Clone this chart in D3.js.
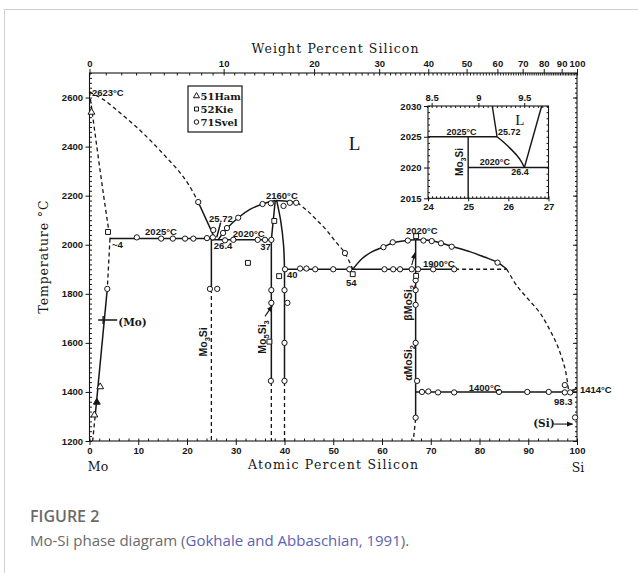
<!DOCTYPE html>
<html>
<head>
<meta charset="utf-8">
<script src="https://cdn.jsdelivr.net/npm/d3@7"></script>
<style>
  body { margin: 0; background: #fff; }
</style>
</head>
<body>
<svg id="chart" width="638" height="573"></svg>
<script>
// ---- axis ticks ----
const atTicks = [0, 10, 20, 30, 40, 50, 60, 70, 80, 90, 100];
const wtTicks = [0, 10, 20, 30, 40, 50, 60, 70, 80, 90, 100];
const tempTicks = [1200, 1400, 1600, 1800, 2000, 2200, 2400, 2600];
const insetAtTicks = [24, 25, 26, 27];
const insetWtTicks = [8.5, 9, 9.5];
const insetTempTicks = [2015, 2020, 2025, 2030];

// ---- phase boundaries (atomic % Si, °C) ----
const liqMoDashed = [[0, 2623], [3, 2590], [6.3, 2537], [9.5, 2482], [12.4, 2427], [15.5, 2362], [18.6, 2293], [20.5, 2240], [22.3, 2174]];
const liqMoSolid = [[22.3, 2174], [25.72, 2025]];
const solidusMo = [[0, 2623], [1.5, 2400], [2.9, 2200], [4.2, 2025]];
const solvusMoHigh = [[4.2, 2025], [3.65, 1820]];
const solvusMo = [[3.65, 1820], [1.15, 1300]];
const solvusMoLow = [[1.15, 1300], [0.65, 1200]];
const eut2025 = [[4.2, 2025], [25.72, 2025]];
const eut2020 = [[25, 2020], [37.3, 2020]];
const mo3SiSolid = [[25, 2025], [25, 1820]];
const mo3SiDashed = [[25, 1820], [25, 1200]];
const liqMo5Si3Left = [[26.4, 2020], [28, 2062], [30.5, 2110], [33, 2145], [35.5, 2166], [38.1, 2180]];
const liqMo5Si3Right = [[38.1, 2180], [40, 2178], [42.6, 2172]];
const liqMo5Si3Dashed = [[42.6, 2172], [44.6, 2140], [46.5, 2103], [48.5, 2062], [50.5, 2012], [52.4, 1966], [54, 1900]];
const mo5si3LeftTop = [[38.1, 2180], [37.7, 2100], [37.3, 2020]];
const mo5si3LeftSolid = [[37.3, 2020], [37.3, 1440]];
const mo5si3LeftDashed = [[37.3, 1440], [37.3, 1200]];
const mo5si3RightTop = [[38.4, 2180], [39.2, 2100], [39.8, 2000], [40, 1900]];
const mo5si3RightSolid = [[40, 1900], [40, 1440]];
const mo5si3RightDashed = [[40, 1440], [40, 1200]];
const eut1900 = [[40, 1900], [75, 1900]];
const eut1900Dashed = [[75, 1900], [85.6, 1900]];
const liqMoSi2Left = [[54, 1900], [56, 1945], [58, 1972], [60.3, 1991], [62.3, 2008], [65.2, 2017], [66.9, 2020]];
const liqMoSi2Right = [[66.9, 2020], [70, 2017], [72.1, 2007], [74.4, 1993], [78, 1972], [81, 1950], [83.7, 1928], [85.6, 1900]];
const liqSiDashed = [[85.6, 1900], [87.7, 1832], [90, 1778], [92.4, 1722], [94.5, 1650], [96.1, 1583], [97.6, 1490], [98.3, 1400]];
const moSi2Solid = [[66.9, 2020], [66.9, 1290]];
const moSi2Dashed = [[66.9, 1290], [66.4, 1200]];
const eut1400 = [[66.9, 1400], [100, 1400]];
const siMelt = [[98.3, 1400], [100, 1414]];
const leader2572 = [[26.1, 2030], [26.9, 2090]];

// ---- experimental points ----
const ham51 = [[0.4, 2540], [2.2, 1421], [1.0, 1306]];
const ham51Filled = [[1.5, 1358]];
const kie52 = [[3.8, 2052], [37.9, 2097], [32.5, 1926], [38.9, 1872], [36.9, 1605], [54, 1880], [67, 2035], [67, 1873]];
const svel71 = [
  [9.7, 2030], [14.7, 2025], [17.1, 2025], [19.6, 2025], [21.3, 2025], [24.1, 2027], [25.3, 2030],
  [25.4, 2060], [27.4, 2048], [28.2, 2068], [22.3, 2174],
  [27.8, 2018], [29.5, 2020], [34.5, 2020], [36, 2020], [37.3, 2020],
  [30.5, 2110], [35.5, 2166], [37.2, 2169], [41.1, 2171], [42.4, 2171], [39.8, 2158],
  [40.1, 1900], [43.2, 1903], [44.5, 1903], [46.3, 1900], [50, 1900], [53.3, 1900],
  [60.5, 1900], [62.3, 1900], [63.7, 1900], [66.1, 1900], [67.4, 1900], [70.5, 1900], [74.8, 1900],
  [52.4, 1966], [60.3, 1990], [62.2, 2010], [65.3, 2017], [68.5, 2017], [70.2, 2015], [72.1, 2006], [74.3, 1992], [83.7, 1927],
  [66.9, 1855], [66.9, 1815], [66.9, 1755], [66.9, 1600], [67.2, 1445], [66.9, 1295],
  [37.3, 1815], [37.3, 1763], [37.2, 1445], [40, 1815], [40.6, 1763], [40, 1600], [40, 1445],
  [24.7, 1820], [26.2, 1820], [3.65, 1820],
  [68.2, 1400], [69.5, 1402], [71.5, 1398], [74.8, 1398], [84, 1400], [89.8, 1400], [94.2, 1400], [97.5, 1398], [98.6, 1398],
  [97.5, 1428], [99.6, 1296]
];
const moCross = [[2.8, 1693]];

// ---- annotations ----
const labels = [
  ["2623°C", 0.5, 2606], ["2025°C", 11.4, 2040], ["~4", 4.6, 1987], ["25.72", 24.5, 2093],
  ["26.4", 25.5, 1983], ["2020°C", 29.4, 2032], ["37", 35, 1979], ["2160°C", 36.2, 2187],
  ["40", 40.5, 1865], ["54", 52.6, 1832], ["2020°C", 64.9, 2044], ["1900°C", 68.4, 1909],
  ["1400°C", 77.8, 1404], ["98.3", 95.3, 1347], ["1414°C", 100.6, 1396]
];
const insetLabels = [
  ["2025°C", 24.46, 2025.3], ["25.72", 25.74, 2025.3], ["2020°C", 25.29, 2020.4], ["26.4", 26.07, 2018.8]
];
const legendItems = ["51Ham", "52Kie", "71Svel"];

// ---- inset boundaries ----
const i2025 = [[24, 2025], [25.72, 2025]];
const iMo3Si = [[25, 2025], [25, 2015]];
const i2020 = [[25, 2020], [27, 2020]];
const iLiqLeft = [[25.6, 2030], [25.72, 2025]];
const iLiqCurve = [[25.72, 2025], [25.85, 2024.3], [26.0, 2023.4], [26.21, 2022.0], [26.32, 2021], [26.4, 2020]];
const iLiqRight = [[26.4, 2020], [26.83, 2030]];

// ---------------------------------------------------------------
const ink = "#161616";
const tickFont = "Liberation Sans, Arial, sans-serif";
const typeFont = "DejaVu Serif, Liberation Serif, serif";
const svg = d3.select("#chart");

// weight % -> atomic %
const wtToAt = w => {
  const a = w / 28.0855, b = (100 - w) / 95.95;
  return 100 * a / (a + b);
};

// card border
svg.append("rect")
  .attr("x", 4.5).attr("y", 9.5).attr("width", 700).attr("height", 700)
  .attr("fill", "none").attr("stroke", "#d0d0d0");

const defs = svg.append("defs");
defs.append("marker").attr("id", "arr")
  .attr("viewBox", "0 0 10 10").attr("refX", 9).attr("refY", 5)
  .attr("markerWidth", 6).attr("markerHeight", 6).attr("orient", "auto")
  .append("path").attr("d", "M0,1L10,5L0,9z").attr("fill", ink);

const x = d3.scaleLinear().domain([0, 100]).range([89.5, 577]);
const y = d3.scaleLinear().domain([1200, 2700]).range([441, 73]);
const wtGrid = d3.range(0, 100.01, 0.5);
const xWt = d3.scaleLinear().domain(wtGrid).range(wtGrid.map(w => x(wtToAt(w))));

function styleAxis(sel) {
  sel.select(".domain").remove();
  sel.selectAll("line").attr("stroke", ink).attr("stroke-width", 1);
  sel.selectAll("text")
    .attr("font-family", tickFont).attr("font-weight", "bold")
    .attr("font-size", "9.5px").attr("fill", ink);
}

const g = svg.append("g");

// frame
g.append("rect")
  .attr("x", x(0)).attr("y", y(2700))
  .attr("width", x(100) - x(0)).attr("height", y(1200) - y(2700))
  .attr("fill", "none").attr("stroke", ink).attr("stroke-width", 1.1);

// left axis
g.append("g").attr("transform", `translate(${x(0)},0)`)
  .call(d3.axisLeft(y).tickValues(tempTicks).tickSize(4).tickPadding(2.5).tickFormat(d3.format("d")))
  .call(styleAxis);
g.append("g").attr("transform", `translate(${x(0)},0)`)
  .call(d3.axisLeft(y).tickValues(d3.range(1200, 2701, 20)).tickSize(-2.5).tickFormat(""))
  .call(styleAxis);
// right axis
g.append("g").attr("transform", `translate(${x(100)},0)`)
  .call(d3.axisRight(y).tickValues(tempTicks).tickSize(-4).tickFormat(""))
  .call(styleAxis);
g.append("g").attr("transform", `translate(${x(100)},0)`)
  .call(d3.axisRight(y).tickValues(d3.range(1200, 2701, 20)).tickSize(-2).tickFormat(""))
  .call(styleAxis);
// bottom axis
g.append("g").attr("transform", `translate(0,${y(1200)})`)
  .call(d3.axisBottom(x).tickValues(atTicks).tickSize(4).tickPadding(2.3))
  .call(styleAxis);
g.append("g").attr("transform", `translate(0,${y(1200)})`)
  .call(d3.axisBottom(x).tickValues(d3.range(0, 101, 2)).tickSize(-2.5).tickFormat(""))
  .call(styleAxis);
// top axis (weight %)
g.append("g").attr("transform", `translate(0,${y(2700)})`)
  .call(d3.axisTop(xWt).tickValues(wtTicks).tickSize(4).tickPadding(2))
  .call(styleAxis);
g.append("g").attr("transform", `translate(0,${y(2700)})`)
  .call(d3.axisTop(xWt).tickValues(d3.range(0, 101, 1)).tickSize(-2.5).tickFormat(""))
  .call(styleAxis);

// axis titles (typewriter look, widths matched to the scan)
const title = (txt, tx, ty, len, rot) => {
  const t = g.append("text")
    .attr("transform", `translate(${tx},${ty})` + (rot ? " rotate(-90)" : ""))
    .attr("text-anchor", "middle").attr("font-family", typeFont)
    .attr("font-size", "12.5px").attr("fill", ink).text(txt);
  if (len) t.attr("textLength", len).attr("lengthAdjust", "spacing");
  return t;
};
title("Weight Percent Silicon", 335, 53, 167);
title("Temperature °C", 48, 257, 113, true);
title("Atomic Percent Silicon", 333, 469, 170);
title("Mo", 98, 471);
title("Si", 578, 472);

// boundaries
const straight = d3.line().x(p => x(p[0])).y(p => y(p[1]));
const lineC = d3.line().x(d => x(d[0])).y(d => y(d[1])).curve(d3.curveCatmullRom);
const solid = [liqMoSolid, solvusMo, eut2025, eut2020, mo3SiSolid, mo5si3LeftSolid, mo5si3RightSolid,
  eut1900, moSi2Solid, eut1400, siMelt, leader2572];
const solidCurves = [liqMo5Si3Left, liqMo5Si3Right, mo5si3LeftTop, mo5si3RightTop, liqMoSi2Left, liqMoSi2Right];
const dashed = [solvusMoHigh, solvusMoLow, mo3SiDashed, mo5si3LeftDashed, mo5si3RightDashed, eut1900Dashed, moSi2Dashed];
const dashedCurves = [liqMoDashed, solidusMo, liqMo5Si3Dashed, liqSiDashed];

g.selectAll(".solid").data(solid.concat(solidCurves)).join("path")
  .attr("class", "solid")
  .attr("d", (d, i) => i < solid.length ? straight(d) : lineC(d))
  .attr("fill", "none").attr("stroke", ink).attr("stroke-width", 1.5);
g.selectAll(".dashed").data(dashed.concat(dashedCurves)).join("path")
  .attr("class", "dashed")
  .attr("d", (d, i) => i < dashed.length ? straight(d) : lineC(d))
  .attr("fill", "none").attr("stroke", ink).attr("stroke-width", 1.3)
  .attr("stroke-dasharray", "4,3");

// points
const sym = (type, size) => d3.symbol().type(type).size(size)();
const drawPts = (data, type, size, fill) => g.append("g").selectAll("path").data(data).join("path")
  .attr("transform", d => `translate(${x(d[0])},${y(d[1])})`)
  .attr("d", sym(type, size))
  .attr("fill", fill).attr("stroke", ink).attr("stroke-width", 1);
drawPts(svel71, d3.symbolCircle, 22, "#fff");
drawPts(kie52, d3.symbolSquare, 24, "#fff");
drawPts(ham51, d3.symbolTriangle, 20, "#fff");
drawPts(ham51Filled, d3.symbolTriangle, 20, ink);
g.append("g").selectAll("path").data(moCross).join("path")
  .attr("d", d => `M${x(d[0]) - 5},${y(d[1])}H${x(d[0]) + 14}M${x(d[0])},${y(d[1]) - 4}V${y(d[1]) + 4}`)
  .attr("stroke", ink).attr("stroke-width", 1.4);

// labels
const smallText = (sel) => sel.attr("font-family", tickFont).attr("font-weight", "bold")
  .attr("font-size", "9.5px").attr("fill", ink);
g.append("g").selectAll("text").data(labels).join("text")
  .attr("x", d => x(d[1])).attr("y", d => y(d[2])).text(d => d[0])
  .call(smallText);

g.append("text").attr("x", x(53.2)).attr("y", y(2386))
  .attr("font-family", "Liberation Serif, Times New Roman, serif").attr("font-size", "19px")
  .attr("fill", ink).text("L");
g.append("text").attr("x", x(5.9)).attr("y", y(1669))
  .attr("font-family", typeFont).attr("font-weight", "bold").attr("font-size", "10.5px")
  .attr("fill", ink).text("(Mo)");
g.append("text").attr("x", x(91)).attr("y", y(1257))
  .attr("font-family", typeFont).attr("font-weight", "bold").attr("font-size", "10.5px")
  .attr("fill", ink).text("(Si)");

// arrows
const arrows = [[[95.3, 1269], [99.1, 1269]], [[36.0, 1708], [37.5, 1752]], [[66.1, 1917], [66.8, 1968]]];
g.append("g").selectAll("path").data(arrows).join("path")
  .attr("d", straight)
  .attr("stroke", ink).attr("stroke-width", 1.1).attr("marker-end", "url(#arr)");

// rotated phase names
function phaseLabel(parent, tx, ty, pre, a, mid, b, size) {
  const t = parent.append("text")
    .attr("transform", `translate(${tx},${ty}) rotate(-90)`)
    .attr("text-anchor", "middle").call(smallText).attr("font-size", size + "px");
  t.append("tspan").text(pre);
  if (a) t.append("tspan").attr("dy", 3).attr("font-size", (size * 0.72) + "px").text(a);
  t.append("tspan").attr("dy", a ? -3 : 0).text(mid);
  if (b) t.append("tspan").attr("dy", 3).attr("font-size", (size * 0.72) + "px").text(b);
}
phaseLabel(g, x(24.2), y(1604), "Mo", "3", "Si", null, 10.5);
phaseLabel(g, x(36.3), y(1624), "Mo", "5", "Si", "3", 10.5);
phaseLabel(g, x(66.2), y(1763), "βMoSi", null, "", "2", 10.5);
phaseLabel(g, x(66.2), y(1518), "αMoSi", null, "", "2", 10.5);

// legend
const lg = g.append("g");
lg.append("rect").attr("x", 188).attr("y", 86).attr("width", 54).attr("height", 46)
  .attr("fill", "#fff").attr("stroke", ink).attr("stroke-width", 1.2);
const legendSyms = [d3.symbolTriangle, d3.symbolSquare, d3.symbolCircle];
lg.selectAll("path").data(legendItems).join("path")
  .attr("transform", (d, i) => `translate(196.5,${96 + i * 13})`)
  .attr("d", (d, i) => sym(legendSyms[i], 16))
  .attr("fill", "#fff").attr("stroke", ink).attr("stroke-width", 1);
lg.selectAll("text").data(legendItems).join("text")
  .attr("x", 200.5).attr("y", (d, i) => 100 + i * 13)
  .attr("font-family", typeFont).attr("font-weight", "bold").attr("font-size", "10px")
  .attr("fill", ink).text(d => d);

// ---- inset ----
const xi = d3.scaleLinear().domain([24, 27]).range([428, 548.5]);
const yi = d3.scaleLinear().domain([2015, 2030]).range([198.3, 106]);
const wtGridI = d3.range(8, 10.01, 0.05);
const xiWt = d3.scaleLinear().domain(wtGridI).range(wtGridI.map(w => xi(wtToAt(w))));
const ig = g.append("g");
ig.append("rect").attr("x", xi(24)).attr("y", yi(2030))
  .attr("width", xi(27) - xi(24)).attr("height", yi(2015) - yi(2030))
  .attr("fill", "#fff").attr("stroke", ink).attr("stroke-width", 1.1);
ig.append("g").attr("transform", `translate(${xi(24)},0)`)
  .call(d3.axisLeft(yi).tickValues(insetTempTicks).tickSize(4).tickPadding(2.5).tickFormat(d3.format("d")))
  .call(styleAxis);
ig.append("g").attr("transform", `translate(${xi(24)},0)`)
  .call(d3.axisLeft(yi).tickValues(d3.range(2015, 2030.1, 1)).tickSize(-2).tickFormat(""))
  .call(styleAxis);
ig.append("g").attr("transform", `translate(${xi(27)},0)`)
  .call(d3.axisRight(yi).tickValues(d3.range(2015, 2030.1, 1)).tickSize(-2).tickFormat(""))
  .call(styleAxis);
ig.append("g").attr("transform", `translate(0,${yi(2015)})`)
  .call(d3.axisBottom(xi).tickValues(insetAtTicks).tickSize(3).tickPadding(1.5).tickFormat(d => String(d)))
  .call(styleAxis);
ig.append("g").attr("transform", `translate(0,${yi(2015)})`)
  .call(d3.axisBottom(xi).tickValues(d3.range(24, 27.01, 0.1)).tickSize(-2).tickFormat(""))
  .call(styleAxis);
ig.append("g").attr("transform", `translate(0,${yi(2030)})`)
  .call(d3.axisTop(xiWt).tickValues(insetWtTicks).tickSize(3).tickPadding(2).tickFormat(d => String(d)))
  .call(styleAxis);
ig.append("g").attr("transform", `translate(0,${yi(2030)})`)
  .call(d3.axisTop(xiWt).tickValues(d3.range(8.45, 9.75, 0.05)).tickSize(-2).tickFormat(""))
  .call(styleAxis);

const iLine = d3.line().x(d => xi(d[0])).y(d => yi(d[1]));
ig.selectAll(".il").data([i2025, iMo3Si, i2020, iLiqLeft, iLiqRight]).join("path")
  .attr("class", "il").attr("d", iLine)
  .attr("fill", "none").attr("stroke", ink).attr("stroke-width", 1.4);
ig.append("path").attr("d", iLine.curve(d3.curveCatmullRom)(iLiqCurve))
  .attr("fill", "none").attr("stroke", ink).attr("stroke-width", 1.4);
ig.selectAll(".it").data(insetLabels).join("text")
  .attr("class", "it").attr("x", d => xi(d[1])).attr("y", d => yi(d[2])).text(d => d[0])
  .call(smallText).attr("font-size", "9px");
ig.append("text").attr("x", xi(26.17)).attr("y", yi(2026.9))
  .attr("font-family", "Liberation Serif, Times New Roman, serif").attr("font-size", "15px")
  .attr("fill", ink).text("L");
phaseLabel(ig, xi(24.86), yi(2020.9), "Mo", "3", "Si", null, 10);

// ---- caption ----
svg.append("text").attr("x", 30).attr("y", 522)
  .attr("font-family", "Open Sans, Noto Sans, sans-serif").attr("font-weight", 600)
  .attr("font-size", "16px").attr("fill", "#6a6a6a").text("FIGURE 2");
const cap = svg.append("text").attr("x", 30).attr("y", 546)
  .attr("font-family", "Open Sans, Noto Sans, sans-serif")
  .attr("font-size", "15px").attr("fill", "#6a6a6a");
cap.append("tspan").text("Mo-Si phase diagram (");
cap.append("tspan").attr("fill", "#5d5fb3").text("Gokhale and Abbaschian, 1991");
cap.append("tspan").text(").");
</script>
</body>
</html>
